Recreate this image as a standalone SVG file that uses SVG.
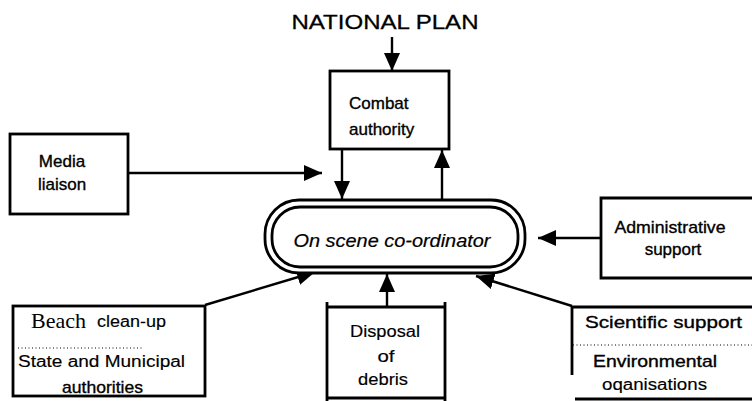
<svg xmlns="http://www.w3.org/2000/svg" width="752" height="401" viewBox="0 0 752 401">
  <style>
    .box { fill: #fff; stroke: #000; stroke-width: 2.8; }
    .edge { fill: none; stroke: #000; stroke-width: 2.8; }
    .conn { fill: none; stroke: #000; stroke-width: 2.4; }
    .lbl { font-family: "Liberation Sans", Arial, sans-serif; font-size: 17px; fill: #000; stroke: #000; stroke-width: 0.35; }
    .narrow { font-family: "Liberation Sans", Arial, sans-serif; font-size: 16px; fill: #000; stroke: #000; stroke-width: 0.15; }
    .dots { stroke: #000; stroke-width: 1.2; stroke-dasharray: 1 2.5; }
  </style>
  <defs>
    <marker id="head" markerUnits="userSpaceOnUse" markerWidth="19" markerHeight="16" refX="18" refY="8" orient="auto">
      <path d="M0,0 L18,8 L0,16 z" fill="#000"/>
    </marker>
  </defs>
  <rect width="752" height="401" fill="#fff"/>

  <!-- heading -->
  <g id="national-plan">
    <text x="385" y="29" text-anchor="middle" font-family="Liberation Sans, Arial, sans-serif" font-size="21" stroke="#000" stroke-width="0.3" textLength="187" lengthAdjust="spacingAndGlyphs">NATIONAL PLAN</text>
  </g>

  <!-- connectors -->
  <g id="connectors">
    <line class="conn" x1="392" y1="37" x2="392" y2="71" marker-end="url(#head)"/>
    <line class="conn" x1="128" y1="173" x2="322" y2="173" marker-end="url(#head)"/>
    <line class="conn" x1="342" y1="150" x2="342" y2="199" marker-end="url(#head)"/>
    <line class="conn" x1="442" y1="199" x2="442" y2="150" marker-end="url(#head)"/>
    <line class="conn" x1="601" y1="238" x2="538" y2="238" marker-end="url(#head)"/>
    <line class="conn" x1="205" y1="305" x2="315" y2="272" marker-end="url(#head)"/>
    <line class="conn" x1="387" y1="307" x2="387" y2="274" marker-end="url(#head)"/>
    <line class="conn" x1="572" y1="306" x2="476" y2="276" marker-end="url(#head)"/>
  </g>

  <!-- combat authority -->
  <g id="combat-authority">
    <rect class="box" x="330" y="71" width="119" height="78"/>
    <text class="lbl" x="349" y="109">Combat</text>
    <text class="lbl" x="349" y="135">authority</text>
  </g>

  <!-- media liaison -->
  <g id="media-liaison">
    <rect class="box" x="10" y="134" width="118" height="80"/>
    <text class="lbl" x="62" y="167" text-anchor="middle">Media</text>
    <text class="lbl" x="62" y="190" text-anchor="middle">liaison</text>
  </g>

  <!-- on scene co-ordinator -->
  <g id="on-scene-coordinator">
    <rect class="box" x="265" y="200" width="260" height="73" rx="34" ry="34"/>
    <rect class="edge" x="272" y="207" width="246" height="60" rx="28" ry="28"/>
    <text x="392" y="247" text-anchor="middle" font-family="Liberation Sans, Arial, sans-serif" font-style="italic" font-size="18" stroke="#000" stroke-width="0.2" textLength="197" lengthAdjust="spacingAndGlyphs">On scene co-ordinator</text>
  </g>

  <!-- administrative support -->
  <g id="administrative-support">
    <path class="edge" d="M752,198 L601,198 L601,278 L752,278"/>
    <text class="lbl" x="670" y="233" text-anchor="middle" textLength="111" lengthAdjust="spacingAndGlyphs">Administrative</text>
    <text class="lbl" x="673" y="255" text-anchor="middle">support</text>
  </g>

  <!-- beach clean-up -->
  <g id="beach-cleanup">
    <rect class="box" x="13" y="306" width="192" height="90"/>
    <text x="31" y="328" font-family="Liberation Serif, Times New Roman, serif" font-size="22">Beach</text>
    <text class="narrow" x="97" y="327" textLength="69" lengthAdjust="spacingAndGlyphs">clean-up</text>
    <line class="dots" x1="18" y1="348" x2="143" y2="348"/>
    <text class="narrow" x="18" y="367" textLength="167" lengthAdjust="spacingAndGlyphs">State and Municipal</text>
    <text class="lbl" x="62" y="393" textLength="81" lengthAdjust="spacingAndGlyphs">authorities</text>
  </g>

  <!-- disposal of debris -->
  <g id="disposal-of-debris">
    <path class="box" d="M327,401 L327,302 M327,307 L445,307 M445,302 L445,401"/>
    <line class="edge" x1="327" y1="398" x2="445" y2="398"/>
    <text class="narrow" x="385" y="337" text-anchor="middle" textLength="70" lengthAdjust="spacingAndGlyphs">Disposal</text>
    <text class="narrow" x="386" y="362" text-anchor="middle" textLength="17" lengthAdjust="spacingAndGlyphs">of</text>
    <text class="narrow" x="383" y="385" text-anchor="middle" textLength="50" lengthAdjust="spacingAndGlyphs">debris</text>
  </g>

  <!-- scientific support / environmental organisations -->
  <g id="scientific-support">
    <path class="edge" d="M752,307 L572,307 L572,375"/>
    <line class="edge" x1="575" y1="399" x2="752" y2="399"/>
    <text class="lbl" x="585" y="328" textLength="157" lengthAdjust="spacingAndGlyphs">Scientific support</text>
    <line class="dots" x1="573" y1="345" x2="752" y2="345"/>
    <text class="lbl" x="593" y="367" textLength="124" lengthAdjust="spacingAndGlyphs">Environmental</text>
    <text class="narrow" x="602" y="390" textLength="105" lengthAdjust="spacingAndGlyphs">oqanisations</text>
  </g>
</svg>
